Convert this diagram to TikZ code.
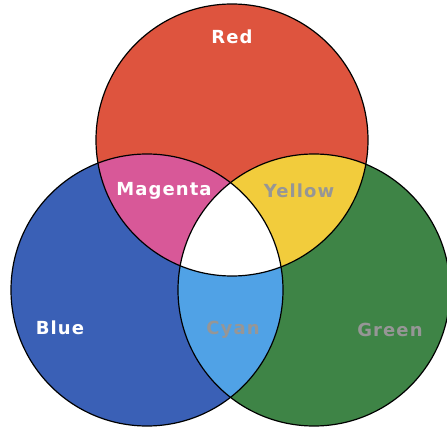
\documentclass[tikz,border=0pt]{standalone}
\usepackage{fontspec}
\setsansfont{DejaVu Sans}

\definecolor{redc}{RGB}{222,84,62}
\definecolor{bluec}{RGB}{58,96,182}
\definecolor{greenc}{RGB}{62,132,70}
\definecolor{magc}{RGB}{216,88,152}
\definecolor{yelc}{RGB}{242,204,60}
\definecolor{cyanc}{RGB}{80,162,230}
\definecolor{txtgray}{RGB}{150,150,150}

\begin{document}
\begin{tikzpicture}[x=0.75pt, y=-0.75pt, line width=0.9pt]
  \tikzset{lbl/.style={font=\sffamily\bfseries\fontsize{13.5}{16}\selectfont\addfontfeatures{LetterSpace=6}}}
  \def\rad{102pt}
  \useasboundingbox (0,0) rectangle (447,428);

  \coordinate (R) at (232,140);
  \coordinate (B) at (147,290);
  \coordinate (G) at (314,290);

  \fill[redc]   (R) circle (\rad);
  \fill[bluec]  (B) circle (\rad);
  \fill[greenc] (G) circle (\rad);
  % overlaps
  \begin{scope}
    \clip (R) circle (\rad);
    \fill[magc] (B) circle (\rad);
    \fill[yelc] (G) circle (\rad);
  \end{scope}
  \begin{scope}
    \clip (B) circle (\rad);
    \fill[cyanc] (G) circle (\rad);
  \end{scope}
  \begin{scope}
    \clip (R) circle (\rad);
    \clip (B) circle (\rad);
    \fill[white] (G) circle (\rad);
  \end{scope}

  \draw (R) circle (\rad);
  \draw (B) circle (\rad);
  \draw (G) circle (\rad);

  \node[lbl, white]   (red)     at (232,37)  {Red};
  \node[lbl, white]   (magenta) at (164,191) {Magenta};
  \node[lbl, txtgray] (yellow)  at (299,191) {Yellow};
  \node[lbl, white]   (blue)    at (60,328)  {Blue};
  \node[lbl, txtgray] (cyan)    at (233,330) {Cyan};
  \node[lbl, txtgray] (green)   at (390,330) {Green};
\end{tikzpicture}
\end{document}
